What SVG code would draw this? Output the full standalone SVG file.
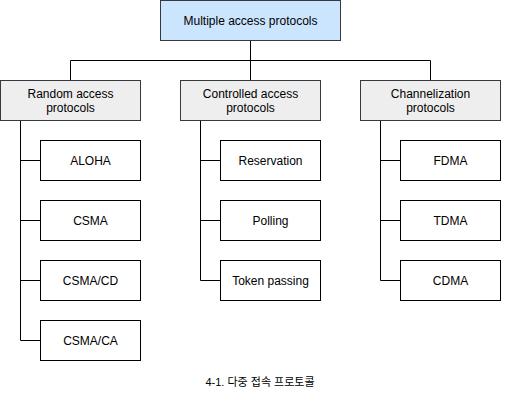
<svg xmlns="http://www.w3.org/2000/svg" width="521" height="402" viewBox="0 0 521 402">
<style>
text{font-family:"Liberation Sans",Arial,sans-serif;font-size:12px;fill:#000;text-anchor:middle;dominant-baseline:central}
.top{fill:#cce5ff;stroke:#36393d;stroke-width:1}
.cat{fill:#eeeeee;stroke:#36393d;stroke-width:1}
.leaf{fill:#ffffff;stroke:#000;stroke-width:1}
.ln{fill:none;stroke:#000;stroke-width:1}
.cap{font-size:11px;font-family:"Liberation Sans","Noto Sans CJK KR",sans-serif}
</style>
<rect width="521" height="402" fill="#ffffff"/>
<g id="connectors">
<path class="ln" d="M250.5 40V60.5M70.5 60.5H430.5M70.5 60.5V80M250.5 60.5V80M430.5 60.5V80"/>
<path class="ln" d="M20.5 120V340.5H40M20.5 160.5H40M20.5 220.5H40M20.5 280.5H40"/>
<path class="ln" d="M200.5 120V280.5H220M200.5 160.5H220M200.5 220.5H220"/>
<path class="ln" d="M380.5 120V280.5H400M380.5 160.5H400M380.5 220.5H400"/>
</g>
<g id="root"><rect class="top" x="160.5" y="0.5" width="180" height="40"/><text x="250.5" y="20.5">Multiple access protocols</text></g>
<g id="random"><rect class="cat" x="0.5" y="80.5" width="140" height="40"/><text x="70.5" y="93.5">Random access</text><text x="70.5" y="107.5">protocols</text></g>
<g id="controlled"><rect class="cat" x="180.5" y="80.5" width="140" height="40"/><text x="250.5" y="93.5">Controlled access</text><text x="250.5" y="107.5">protocols</text></g>
<g id="channel"><rect class="cat" x="360.5" y="80.5" width="140" height="40"/><text x="430.5" y="93.5">Channelization</text><text x="430.5" y="107.5">protocols</text></g>
<g id="aloha"><rect class="leaf" x="40.5" y="140.5" width="100" height="40"/><text x="90.5" y="160.5">ALOHA</text></g>
<g id="csma"><rect class="leaf" x="40.5" y="200.5" width="100" height="40"/><text x="90.5" y="220.5">CSMA</text></g>
<g id="csmacd"><rect class="leaf" x="40.5" y="260.5" width="100" height="40"/><text x="90.5" y="280.5">CSMA/CD</text></g>
<g id="csmaca"><rect class="leaf" x="40.5" y="320.5" width="100" height="40"/><text x="90.5" y="340.5">CSMA/CA</text></g>
<g id="reservation"><rect class="leaf" x="220.5" y="140.5" width="100" height="40"/><text x="270.5" y="160.5">Reservation</text></g>
<g id="polling"><rect class="leaf" x="220.5" y="200.5" width="100" height="40"/><text x="270.5" y="220.5">Polling</text></g>
<g id="token"><rect class="leaf" x="220.5" y="260.5" width="100" height="40"/><text x="270.5" y="280.5">Token passing</text></g>
<g id="fdma"><rect class="leaf" x="400.5" y="140.5" width="100" height="40"/><text x="450.5" y="160.5">FDMA</text></g>
<g id="tdma"><rect class="leaf" x="400.5" y="200.5" width="100" height="40"/><text x="450.5" y="220.5">TDMA</text></g>
<g id="cdma"><rect class="leaf" x="400.5" y="260.5" width="100" height="40"/><text x="450.5" y="280.5">CDMA</text></g>
<g id="caption"><text class="cap" x="260" y="382">4-1. 다중 접속 프로토콜</text></g>
</svg>
